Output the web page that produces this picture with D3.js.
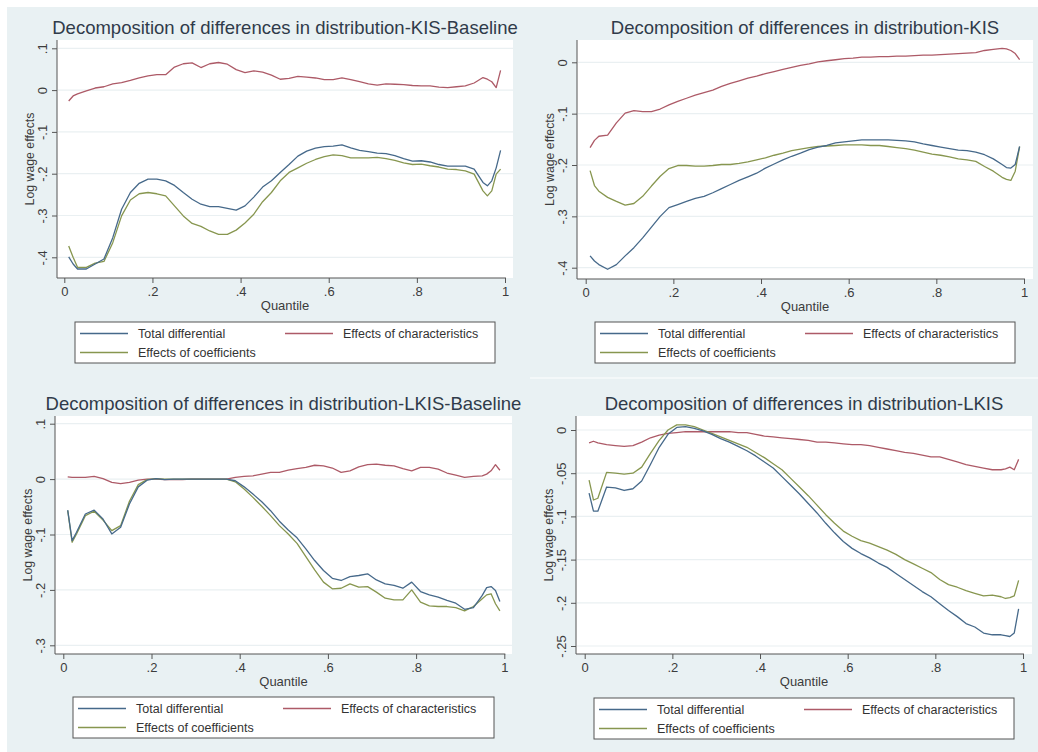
<!DOCTYPE html>
<html>
<head>
<meta charset="utf-8">
<script src="https://cdn.jsdelivr.net/npm/d3@7"></script>
<style>
    body { margin: 0; background: #fff; }
    text { font-family: Arial, "Liberation Sans", sans-serif; }
</style>
</head>
<body>
<svg id="chart"></svg>
<script>
// quantiles at which the decomposition was read
const quantiles = [.01, .02, .03, .05, .07, .09, .11, .13, .15, .17, .19, .21, .23, .25, .27, .29, .31, .33, .35, .37,
    .39, .41, .43, .45, .47, .49, .51, .53, .55, .57, .59, .61, .63, .65, .67, .69, .71, .73, .75, .77,
    .79, .81, .83, .85, .87, .89, .91, .93, .95, .96, .97, .98, .99];

// KIS - Baseline
const kisBaseTotal = [-0.399, -0.416, -0.428, -0.428, -0.416, -0.404, -0.353, -0.285, -0.245, -0.223, -0.213, -0.213, -0.217, -0.228, -0.245, -0.261, -0.273, -0.279, -0.279, -0.283,
    -0.287, -0.277, -0.256, -0.232, -0.217, -0.197, -0.178, -0.158, -0.146, -0.139, -0.135, -0.134, -0.131, -0.138, -0.144, -0.147, -0.151, -0.152, -0.157, -0.164,
    -0.170, -0.169, -0.172, -0.178, -0.182, -0.182, -0.182, -0.189, -0.221, -0.229, -0.217, -0.186, -0.144];
const kisBaseChar = [-0.026, -0.014, -0.009, -0.002, 0.005, 0.008, 0.015, 0.018, 0.023, 0.029, 0.034, 0.037, 0.037, 0.055, 0.063, 0.065, 0.054, 0.063, 0.066, 0.062,
    0.049, 0.042, 0.046, 0.043, 0.036, 0.026, 0.028, 0.033, 0.031, 0.029, 0.025, 0.025, 0.029, 0.025, 0.020, 0.015, 0.012, 0.015, 0.014, 0.013,
    0.011, 0.010, 0.010, 0.007, 0.006, 0.008, 0.010, 0.017, 0.030, 0.026, 0.020, 0.006, 0.047];
const kisBaseCoef = [-0.373, -0.400, -0.424, -0.424, -0.414, -0.410, -0.365, -0.301, -0.263, -0.248, -0.245, -0.248, -0.253, -0.277, -0.301, -0.319, -0.326, -0.337, -0.345, -0.345,
    -0.335, -0.318, -0.297, -0.267, -0.245, -0.217, -0.197, -0.186, -0.175, -0.166, -0.159, -0.155, -0.157, -0.162, -0.162, -0.162, -0.161, -0.164, -0.168, -0.174,
    -0.178, -0.177, -0.181, -0.184, -0.189, -0.190, -0.193, -0.201, -0.241, -0.253, -0.241, -0.201, -0.189];

// KIS
const kisTotal = [-0.377, -0.387, -0.394, -0.403, -0.394, -0.377, -0.361, -0.342, -0.321, -0.300, -0.283, -0.277, -0.271, -0.265, -0.261, -0.254, -0.246, -0.238, -0.230, -0.223,
    -0.216, -0.206, -0.198, -0.190, -0.183, -0.177, -0.170, -0.165, -0.162, -0.157, -0.155, -0.153, -0.151, -0.151, -0.151, -0.151, -0.152, -0.153, -0.155, -0.159,
    -0.162, -0.165, -0.168, -0.171, -0.172, -0.175, -0.180, -0.188, -0.199, -0.205, -0.206, -0.199, -0.164];
const kisChar = [-0.166, -0.152, -0.144, -0.142, -0.118, -0.099, -0.094, -0.096, -0.096, -0.091, -0.083, -0.076, -0.070, -0.064, -0.059, -0.054, -0.047, -0.041, -0.036, -0.031,
    -0.027, -0.022, -0.018, -0.014, -0.010, -0.006, -0.003, 0.001, 0.003, 0.005, 0.007, 0.008, 0.010, 0.010, 0.011, 0.011, 0.012, 0.012, 0.013, 0.014,
    0.014, 0.015, 0.016, 0.017, 0.018, 0.019, 0.023, 0.025, 0.027, 0.026, 0.023, 0.017, 0.005];
const kisCoef = [-0.211, -0.240, -0.251, -0.263, -0.271, -0.278, -0.275, -0.261, -0.241, -0.222, -0.207, -0.201, -0.201, -0.202, -0.202, -0.201, -0.199, -0.199, -0.197, -0.194,
    -0.190, -0.186, -0.181, -0.177, -0.172, -0.169, -0.166, -0.164, -0.163, -0.162, -0.161, -0.161, -0.161, -0.162, -0.162, -0.164, -0.166, -0.168, -0.171, -0.175,
    -0.179, -0.181, -0.184, -0.188, -0.190, -0.193, -0.203, -0.212, -0.224, -0.228, -0.230, -0.212, -0.164];

// LKIS - Baseline
const lkisBaseTotal = [-0.056, -0.111, -0.096, -0.063, -0.056, -0.072, -0.099, -0.087, -0.045, -0.014, -0.002, 0.001, -0.001, 0, 0, 0, 0, 0, 0, 0,
    -0.003, -0.014, -0.027, -0.041, -0.057, -0.076, -0.092, -0.106, -0.126, -0.147, -0.165, -0.179, -0.183, -0.176, -0.174, -0.171, -0.182, -0.189, -0.192, -0.197,
    -0.186, -0.203, -0.209, -0.213, -0.219, -0.224, -0.235, -0.232, -0.210, -0.196, -0.194, -0.201, -0.221];
const lkisBaseChar = [0.004, 0.003, 0.003, 0.003, 0.005, 0.001, -0.006, -0.008, -0.006, -0.002, 0, 0, -0.001, -0.001, -0.001, 0, 0, 0, 0, 0,
    0.003, 0.005, 0.006, 0.009, 0.012, 0.012, 0.016, 0.019, 0.021, 0.025, 0.024, 0.020, 0.012, 0.015, 0.022, 0.026, 0.027, 0.025, 0.024, 0.019,
    0.015, 0.021, 0.021, 0.018, 0.011, 0.007, 0.003, 0.005, 0.006, 0.009, 0.015, 0.026, 0.016];
const lkisBaseCoef = [-0.057, -0.114, -0.099, -0.066, -0.058, -0.074, -0.093, -0.084, -0.040, -0.010, -0.001, 0.001, 0, 0, 0, 0, 0, 0, 0, 0,
    -0.005, -0.018, -0.033, -0.049, -0.066, -0.084, -0.099, -0.116, -0.140, -0.164, -0.186, -0.198, -0.197, -0.189, -0.195, -0.194, -0.204, -0.215, -0.218, -0.218,
    -0.200, -0.222, -0.229, -0.230, -0.230, -0.232, -0.238, -0.230, -0.216, -0.209, -0.207, -0.225, -0.238];

// LKIS
const lkisTotal = [-0.073, -0.094, -0.094, -0.066, -0.067, -0.070, -0.068, -0.059, -0.040, -0.020, -0.005, 0.003, 0.004, 0.002, -0.001, -0.005, -0.010, -0.014, -0.019, -0.024,
    -0.030, -0.037, -0.044, -0.054, -0.064, -0.074, -0.085, -0.096, -0.108, -0.119, -0.129, -0.137, -0.143, -0.148, -0.154, -0.159, -0.166, -0.173, -0.180, -0.187,
    -0.193, -0.201, -0.209, -0.216, -0.224, -0.228, -0.235, -0.237, -0.237, -0.238, -0.239, -0.235, -0.207];
const lkisChar = [-0.015, -0.013, -0.015, -0.017, -0.018, -0.019, -0.018, -0.014, -0.009, -0.006, -0.004, -0.003, -0.002, -0.002, -0.002, -0.002, -0.002, -0.002, -0.003, -0.003,
    -0.005, -0.007, -0.008, -0.009, -0.010, -0.011, -0.012, -0.014, -0.014, -0.015, -0.016, -0.017, -0.017, -0.018, -0.020, -0.022, -0.024, -0.026, -0.027, -0.029,
    -0.031, -0.031, -0.034, -0.037, -0.040, -0.042, -0.044, -0.046, -0.046, -0.045, -0.043, -0.046, -0.034];
const lkisCoef = [-0.058, -0.081, -0.079, -0.049, -0.050, -0.051, -0.050, -0.043, -0.027, -0.012, 0, 0.006, 0.006, 0.004, 0, -0.004, -0.008, -0.012, -0.016, -0.020,
    -0.026, -0.032, -0.039, -0.046, -0.056, -0.066, -0.076, -0.087, -0.098, -0.108, -0.117, -0.123, -0.128, -0.131, -0.135, -0.139, -0.144, -0.150, -0.155, -0.160,
    -0.165, -0.173, -0.179, -0.182, -0.186, -0.189, -0.192, -0.191, -0.193, -0.195, -0.194, -0.192, -0.174];

const titles = [
    'Decomposition of differences in distribution-KIS-Baseline',
    'Decomposition of differences in distribution-KIS',
    'Decomposition of differences in distribution-LKIS-Baseline',
    'Decomposition of differences in distribution-LKIS'
];
const xTicks = [0, .2, .4, .6, .8, 1];
const xTickLabels = ['0', '.2', '.4', '.6', '.8', '1'];
const yTicksA = [.1, 0, -.1, -.2, -.3, -.4];
const yLabelsA = ['.1', '0', '-.1', '-.2', '-.3', '-.4'];
const yTicksB = [0, -.1, -.2, -.3, -.4];
const yLabelsB = ['0', '-.1', '-.2', '-.3', '-.4'];
const yTicksC = [.1, 0, -.1, -.2, -.3];
const yLabelsC = ['.1', '0', '-.1', '-.2', '-.3'];
const yTicksD = [0, -.05, -.1, -.15, -.2, -.25];
const yLabelsD = ['0', '-.05', '-.1', '-.15', '-.2', '-.25'];
const seriesNames = ['Total differential', 'Effects of characteristics', 'Effects of coefficients'];

const colors = ['#46698a', '#ad5a67', '#87964f'];

const width = 1038, height = 752;
const svg = d3.select('#chart').attr('width', width).attr('height', height);

// stata-like background
svg.append('rect').attr('x', 7).attr('y', 7).attr('width', width - 7).attr('height', height - 7).attr('fill', '#e9f1f3');
svg.append('rect').attr('x', 530).attr('y', 377).attr('width', width - 530).attr('height', 2).attr('fill', '#f4f8f9');

// plot regions (pixels): white box, scale ranges, legend box
let panels = [
    {title: titles[0], series: [kisBaseTotal, kisBaseChar, kisBaseCoef], yTicks: yTicksA, yLabels: yLabelsA,
        box: [57, 40, 513, 278], xr: [64.3, 505], yr: [48.3, 257.3], legend: [75, 322, 420, 41]},
    {title: titles[1], series: [kisTotal, kisChar, kisCoef], yTicks: yTicksB, yLabels: yLabelsB,
        box: [577, 40, 1033, 279], xr: [585.7, 1024], yr: [62.3, 267.7], legend: [595, 322, 420, 41]},
    {title: titles[2], series: [lkisBaseTotal, lkisBaseChar, lkisBaseCoef], yTicks: yTicksC, yLabels: yLabelsC,
        box: [55, 416, 512, 654], xr: [63.3, 504.3], yr: [423.7, 645.3], legend: [73, 697, 421, 41]},
    {title: titles[3], series: [lkisTotal, lkisChar, lkisCoef], yTicks: yTicksD, yLabels: yLabelsD,
        box: [576, 416, 1032, 654], xr: [584.7, 1023], yr: [430, 646], legend: [594, 698, 420, 41]}
];

panels.forEach(function (p) {
    drawPanel(p);
});

function drawPanel(p) {
    let [bx0, by0, bx1, by1] = p.box;
    let x = d3.scaleLinear().domain([0, 1]).range(p.xr);
    let y = d3.scaleLinear()
            .domain([p.yTicks[0], p.yTicks[p.yTicks.length - 1]])
            .range(p.yr);

    let g = svg.append('g');

    g.append('rect')
            .attr('x', bx0).attr('y', by0)
            .attr('width', bx1 - bx0).attr('height', by1 - by0)
            .attr('fill', '#fff');

    // gridlines
    g.selectAll('.grid')
            .data(p.yTicks)
            .enter().append('line')
            .attr('x1', bx0 + 1).attr('x2', bx1)
            .attr('y1', d => y(d)).attr('y2', d => y(d))
            .attr('stroke', '#eaf0f2').attr('stroke-width', 1.2);

    // title
    g.append('text')
            .attr('x', (bx0 + bx1) / 2)
            .attr('y', by0 - 6)
            .attr('text-anchor', 'middle')
            .attr('font-size', 18.5)
            .attr('fill', '#303b4a')
            .text(p.title);

    // axes
    let yAxis = d3.axisLeft(y).tickValues(p.yTicks).tickSize(5).tickFormat((d, i) => p.yLabels[i]);
    let ya = g.append('g').attr('transform', `translate(${bx0},0)`).call(yAxis);
    ya.select('.domain').remove();
    ya.append('line').attr('x1', 0).attr('x2', 0).attr('y1', by0).attr('y2', by1).attr('stroke', '#555');
    ya.selectAll('.tick line').attr('stroke', '#555');
    ya.selectAll('.tick text')
            .attr('transform', 'rotate(-90)')
            .attr('x', 0).attr('y', -10).attr('dy', 0)
            .attr('text-anchor', 'middle')
            .attr('font-size', 13)
            .attr('fill', '#3c3c3c');

    let xAxis = d3.axisBottom(x).tickValues(xTicks).tickSize(5).tickFormat((d, i) => xTickLabels[i]);
    let xa = g.append('g').attr('transform', `translate(0,${by1})`).call(xAxis);
    xa.select('.domain').remove();
    xa.append('line').attr('x1', bx0).attr('x2', x(1) + 1).attr('y1', 0).attr('y2', 0).attr('stroke', '#555');
    xa.selectAll('.tick line').attr('stroke', '#555');
    xa.selectAll('.tick text').attr('font-size', 13).attr('fill', '#3c3c3c').attr('y', 8).attr('dy', '0.75em');

    g.append('text')
            .attr('x', (bx0 + bx1) / 2).attr('y', by1 + 32)
            .attr('text-anchor', 'middle').attr('font-size', 13).attr('fill', '#3c3c3c')
            .text('Quantile');

    g.append('text')
            .attr('transform', `translate(${bx0 - 23},${(by0 + by1) / 2}) rotate(-90)`)
            .attr('text-anchor', 'middle').attr('font-size', 12.3).attr('fill', '#3c3c3c')
            .text('Log wage effects');

    // series lines
    let line = d3.line().x((d, i) => x(quantiles[i])).y(d => y(d));
    [1, 2, 0].forEach(function (k) {
        g.append('path')
                .attr('d', line(p.series[k]))
                .attr('fill', 'none')
                .attr('stroke', colors[k])
                .attr('stroke-width', 1.3)
                .attr('stroke-linejoin', 'round');
    });

    // legend
    let [lx, ly, lw, lh] = p.legend;
    let lg = g.append('g').attr('transform', `translate(${lx},${ly})`);
    lg.append('rect').attr('width', lw).attr('height', lh)
            .attr('fill', '#fff').attr('stroke', '#555').attr('stroke-width', 1);
    let slots = [[5, 11.5], [210, 11.5], [5, 30.5]];
    seriesNames.forEach(function (name, k) {
        let [sx, sy] = slots[k];
        lg.append('line').attr('x1', sx).attr('x2', sx + 48).attr('y1', sy).attr('y2', sy)
                .attr('stroke', colors[k]).attr('stroke-width', 1.3);
        lg.append('text').attr('x', sx + 58).attr('y', sy + 4.5)
                .attr('font-size', 12.5).attr('fill', '#333')
                .text(name);
    });
}
</script>
</body>
</html>
